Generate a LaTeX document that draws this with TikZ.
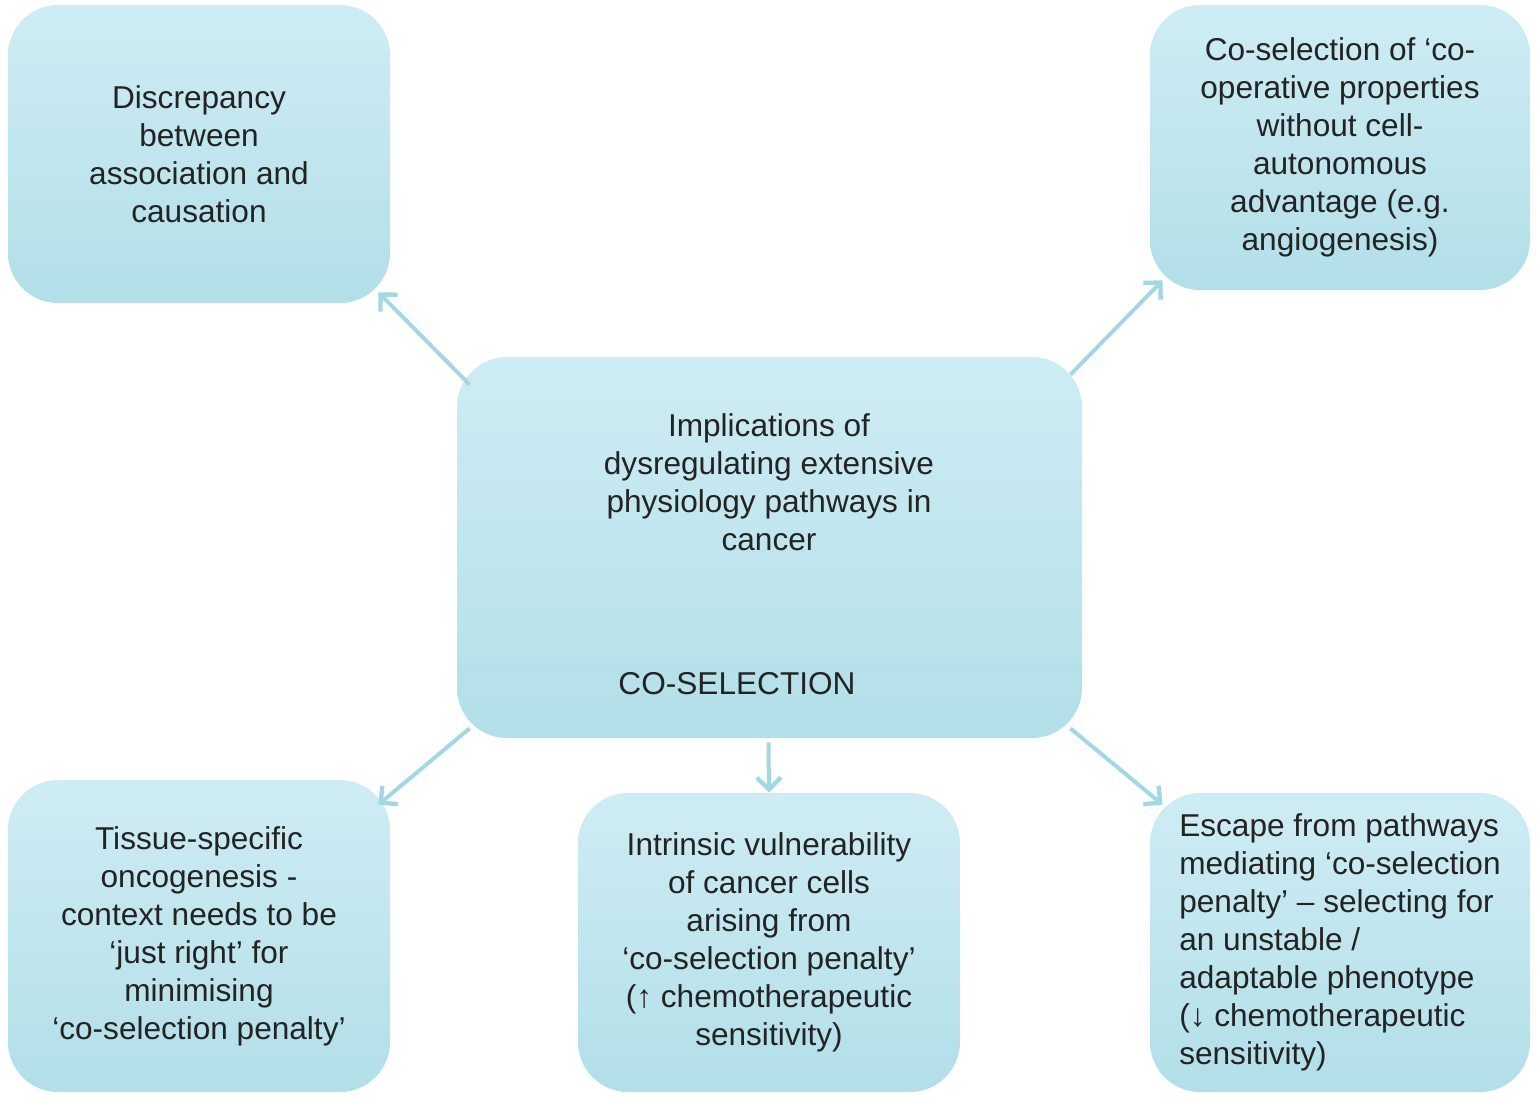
\documentclass[tikz,border=0pt]{standalone}
\usepackage{fontspec}
\setmainfont{Liberation Sans}
\usetikzlibrary{arrows.meta}
\definecolor{boxtop}{RGB}{207,236,244}
\definecolor{boxbottom}{RGB}{178,223,232}
\definecolor{linkblue}{RGB}{163,216,226}
\definecolor{inkgray}{RGB}{35,35,35}
\tikzset{
	topic/.style={rounded corners=25pt, top color=boxtop, bottom color=boxbottom, draw=none,
		inner sep=0pt, text=inkgray, font=\fontsize{15.8}{19}\selectfont, align=center},
	words/.style={text=inkgray, font=\fontsize{15.8}{19}\selectfont, align=center, inner sep=0pt},
	link/.style={linkblue, line width=2pt, -{Straight Barb[length=6pt,width=12pt,line width=2.2pt]}},
}
\begin{document}
\begin{tikzpicture}[x=0.5pt,y=-0.5pt]
	\useasboundingbox (0,0) rectangle (1539,1104);
	% Central box
	\node[topic, minimum width=312.5pt, minimum height=190.5pt] (core) at (769.5,547.5) {};
	\node[words] (coretext) at (769,482) {Implications of\\dysregulating extensive\\physiology pathways in\\cancer};
	\node[words] (coselect) at (737,684) {CO-SELECTION};
	% Outer boxes
	\node[topic, minimum width=191pt, minimum height=149pt] (assoc) at (199,154)
		{Discrepancy\\between\\association and\\causation};
	\node[topic, minimum width=190pt, minimum height=142.5pt] (coop) at (1340,147.5)
		{Co-selection of ‘co-\\operative properties\\without cell-\\autonomous\\advantage (e.g.\\angiogenesis)};
	\node[topic, minimum width=191pt, minimum height=156pt] (tissue) at (199,936)
		{Tissue-specific\\oncogenesis -\\context needs to be\\‘just right’ for\\minimising\\‘co-selection penalty’};
	\node[topic, minimum width=191pt, minimum height=149.5pt] (vuln) at (769,942.5)
		{Intrinsic vulnerability\\of cancer cells\\arising from\\‘co-selection penalty’\\(↑ chemotherapeutic\\sensitivity)};
	\node[topic, align=left, minimum width=190pt, minimum height=149.5pt] (escape) at (1340,942.5)
		{Escape from pathways\\mediating ‘co-selection\\penalty’ – selecting for\\an unstable /\\adaptable phenotype\\(↓ chemotherapeutic\\sensitivity)};
	% Arrows
	\draw[link] ([shift={(13,28)}]core.north west) -- ([shift={(-12,-11)}]assoc.south east);
	\draw[link] ([shift={(-12,18)}]core.north east) -- ([shift={(13,-10)}]coop.south west);
	\draw[link] ([shift={(13,-10)}]core.south west) -- ([shift={(-12,25)}]tissue.north east);
	\draw[link] ([shift={(-1,4)}]core.south) -- (vuln.north);
	\draw[link] ([shift={(-12,-10)}]core.south east) -- ([shift={(13,12)}]escape.north west);
\end{tikzpicture}
\end{document}
